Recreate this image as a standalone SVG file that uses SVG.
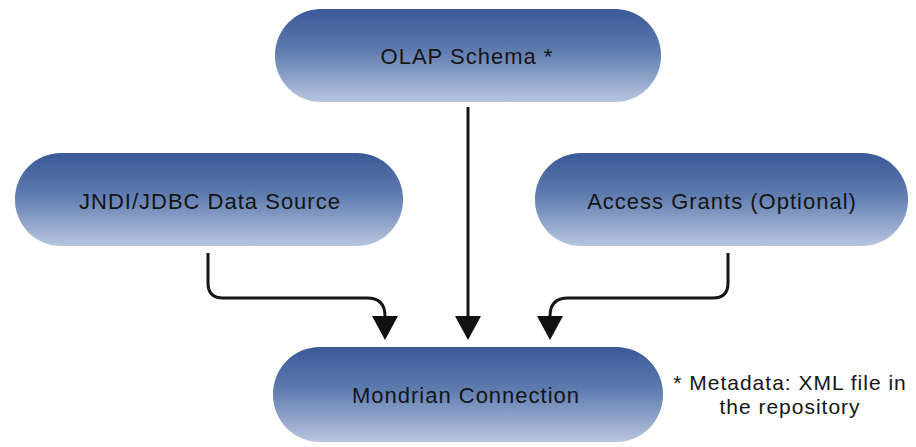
<svg xmlns="http://www.w3.org/2000/svg" width="916" height="447" viewBox="0 0 916 447">
<defs>
<linearGradient id="pill" x1="0" y1="0" x2="0" y2="1">
<stop offset="0" stop-color="#3a5997"/>
<stop offset="0.45" stop-color="#5f7cb0"/>
<stop offset="1" stop-color="#b9c5de"/>
</linearGradient>
<filter id="soft" x="-5%" y="-10%" width="110%" height="120%">
<feGaussianBlur stdDeviation="0.7"/>
</filter>
<marker id="ah" markerUnits="userSpaceOnUse" markerWidth="24" markerHeight="26" viewBox="0 0 24 26" refX="0" refY="13" orient="auto">
<path d="M0,0 L24,13 L0,26 Z" fill="#111"/>
</marker>
</defs>
<style>
.node rect{fill:url(#pill);filter:url(#soft)}
.label{font-family:"Liberation Sans",Arial,sans-serif;font-size:22px;letter-spacing:1px;fill:#151515;text-anchor:middle}
.note{font-family:"Liberation Sans",Arial,sans-serif;font-size:21px;letter-spacing:1px;fill:#151515;text-anchor:middle}
.conn path{fill:none;stroke:#151515;stroke-width:3;marker-end:url(#ah)}
</style>
<rect width="916" height="447" fill="#ffffff"/>
<g class="conn" id="connectors">
<path d="M208,253 V283 Q208,298 223,298 H367 Q385,298 385,316"/>
<path d="M468,107 V316"/>
<path d="M728,253 V283 Q728,298 713,298 H568 Q550,298 550,316"/>
</g>
<g class="node" id="olap">
<rect x="275" y="9" width="386" height="93" rx="46" ry="46"/>
<text class="label" x="467" y="64">OLAP Schema *</text>
</g>
<g class="node" id="jndi">
<rect x="15" y="153" width="388" height="93" rx="46" ry="46"/>
<text class="label" x="210" y="209">JNDI/JDBC Data Source</text>
</g>
<g class="node" id="grants">
<rect x="535" y="153" width="373" height="93" rx="46" ry="46"/>
<text class="label" x="722" y="209">Access Grants (Optional)</text>
</g>
<g class="node" id="mondrian">
<rect x="273" y="347" width="390" height="95" rx="47" ry="47"/>
<text class="label" x="466" y="403">Mondrian Connection</text>
</g>
<g id="footnote">
<text class="note" x="790" y="390">* Metadata: XML file in</text>
<text class="note" x="790" y="414">the repository</text>
</g>
</svg>
